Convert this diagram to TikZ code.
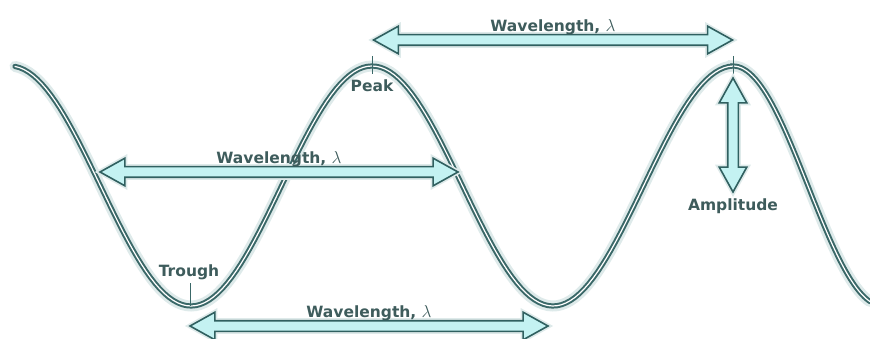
\documentclass[tikz,border=0pt]{standalone}
\usepackage{fontspec}
\setmainfont{DejaVu Sans}
\usetikzlibrary{arrows.meta,calc,positioning,shapes.arrows}
\definecolor{waveteal}{RGB}{58,104,104}
\definecolor{waveglow}{RGB}{222,234,234}
\definecolor{arrfill}{RGB}{196,242,242}
\definecolor{arrline}{RGB}{48,96,96}
\definecolor{txtteal}{RGB}{62,92,92}
\newcommand\wlen{Wavelength, {\fontsize{19}{20}\selectfont$\lambda$}}

\begin{document}
\begin{tikzpicture}[x=1pt,y=-1pt,
  dimarrow/.style={double arrow,draw=arrline,fill=arrfill,line width=1.6pt,
    inner xsep=0pt,inner ysep=4.5pt,double arrow head extend=8.5pt,
    double arrow tip angle=58,preaction={draw=waveglow,line width=5pt}},
  lbl/.style={font=\bfseries\fontsize{15.5}{17}\selectfont,text=txtteal,inner sep=1pt}]
  \useasboundingbox (0,0) rectangle (870,339);
  % key points of the wave
  \coordinate (peakA) at (372,66);
  \coordinate (peakB) at (733,66);
  \coordinate (troughA) at (190,306);
  % the wave: glow, dark rope, light core
  \foreach \w/\c in {11pt/waveglow,5.2pt/waveteal,1.2pt/white}
    \draw[line width=\w,\c,line cap=round]
      plot[domain=15:733,samples=160] (\x,{186-120*cos((\x-372)/362*360)})
      -- plot[domain=733:870,samples=50] (\x,{186-120*cos((\x-733)/150*180)});
  % peak and trough marks
  \draw[waveteal,line width=0.8pt] ($(peakA)+(0,-10)$) -- ($(peakA)+(0,8)$);
  \draw[waveteal,line width=0.8pt] ($(peakB)+(0,-10)$) -- ($(peakB)+(0,8)$);
  \draw[waveteal,line width=0.8pt] (190,283) -- (troughA);
  \node[lbl] (peak) at (372,86) {Peak};
  \node[lbl] (trough) at (189,272) {Trough};
  % wavelength arrows
  \node[dimarrow,minimum height=359pt] (wlTop) at (553,40) {};
  \node[lbl,above=-2pt of wlTop] (wlTopLbl) {\wlen};
  \node[dimarrow,minimum height=358pt] (wlMid) at (279,172) {};
  \node[lbl,above=-2pt of wlMid] (wlMidLbl) {\wlen};
  \node[dimarrow,minimum height=358pt] (wlBot) at (369,326) {};
  \node[lbl,above=-2pt of wlBot] (wlBotLbl) {\wlen};
  % amplitude
  \node[dimarrow,rotate=90,minimum height=114pt] (amp) at (733,135) {};
  \node[lbl] (ampLbl) at (733,206) {Amplitude};
\end{tikzpicture}
\end{document}
